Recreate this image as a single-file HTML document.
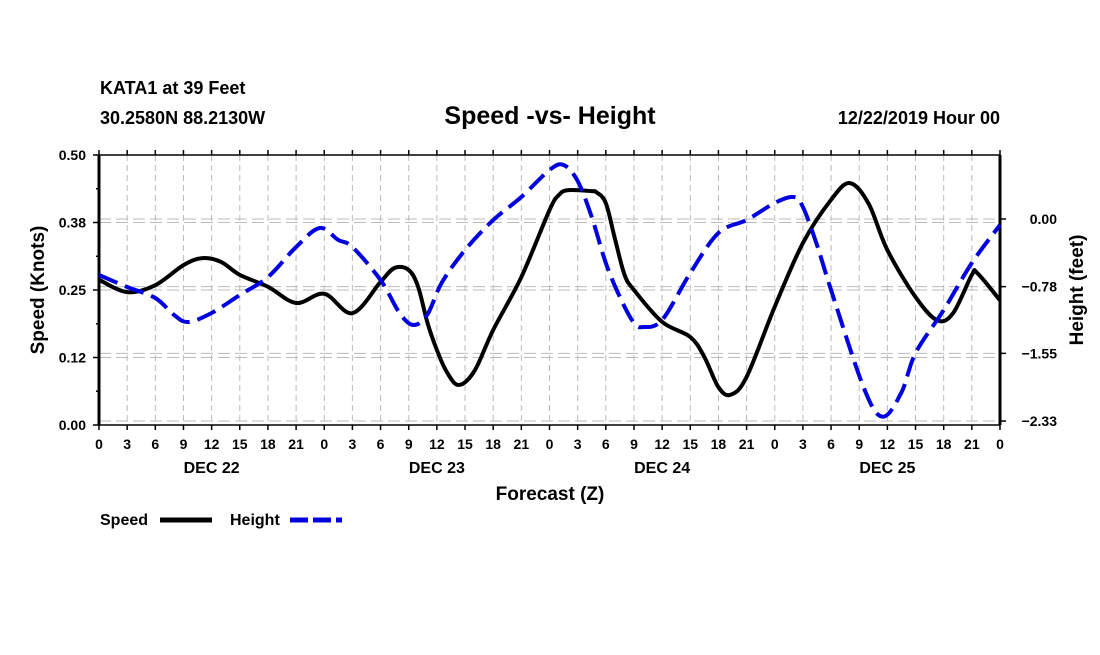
<!DOCTYPE html>
<html><head><meta charset="utf-8"><style>
body{margin:0;background:#fff;width:1100px;height:650px;overflow:hidden}
svg text{font-family:"Liberation Sans",sans-serif;font-weight:bold;fill:#000}
</style></head><body>
<svg id="c" width="1100" height="650">
<text x="100" y="94" font-size="18">KATA1 at 39 Feet</text>
<text x="100" y="124" font-size="18">30.2580N 88.2130W</text>
<text x="550" y="124" font-size="25" text-anchor="middle">Speed -vs- Height</text>
<text x="1000" y="124" font-size="18" text-anchor="end">12/22/2019 Hour 00</text>
<g id="grid"></g><g id="axes"></g><g id="series"></g>
<text x="550" y="500" font-size="19" text-anchor="middle">Forecast (Z)</text>
<text transform="translate(44,290) rotate(-90)" font-size="19" text-anchor="middle">Speed (Knots)</text>
<text transform="translate(1083,290) rotate(-90)" font-size="19" text-anchor="middle">Height (feet)</text>
<g>
<text x="100" y="525" font-size="16">Speed</text>
<line x1="160" y1="520" x2="212" y2="520" stroke="#000" stroke-width="5"/>
<text x="230" y="525" font-size="16">Height</text>
<line x1="290" y1="520" x2="342" y2="520" stroke="#0000e0" stroke-width="5" stroke-dasharray="18,5"/>
</g>
</svg>
<script>
const speedHours=[0,3,6,9,11,13,15,18,21,24,27,30,31.5,33,34,35,36,37,38.3,40,42,45,48,49,50,52.5,53,54,55,56,57,60,63,64.5,66,67.3,69,72,75,78,80,82,84,87,89.3,91,93,93.6,96];
const speedValues=[.269,.246,.259,.296,.309,.302,.278,.256,.226,.243,.207,.265,.291,.287,.256,.189,.139,.1,.074,.1,.176,.274,.398,.426,.435,.433,.431,.411,.343,.278,.25,.191,.163,.126,.07,.056,.089,.219,.337,.417,.448,.41,.324,.237,.194,.207,.278,.281,.231];
const heightHours=[0,3,6,8,9.5,12,15,18,21,23.5,25.5,27,30,32,33.5,35,36.5,39,42,45,48,49.5,51,52.5,54,55.5,57,58,60,63,66,69,72,74,75,76.5,78,81.5,83.5,85.5,87,90,93,96];
const heightValues=[-0.646,-0.784,-0.911,-1.107,-1.188,-1.084,-0.877,-0.669,-0.323,-0.104,-0.242,-0.323,-0.704,-1.08,-1.223,-1.1,-0.738,-0.358,-0.012,0.254,0.565,0.623,0.438,0.023,-0.507,-0.9,-1.2,-1.246,-1.165,-0.623,-0.161,-0.012,0.185,0.254,0.138,-0.3,-0.819,-1.95,-2.28,-2.0,-1.546,-1.05,-0.507,-0.069];
const xTickLabels=["0","3","6","9","12","15","18","21"];
const dayLabels=["DEC 22","DEC 23","DEC 24","DEC 25"];
const leftTicks=[0,0.125,0.25,0.375,0.5];
const leftTickLabels=["0.00","0.12","0.25","0.38","0.50"];
const rightTicks=[0,-0.78,-1.55,-2.33];
const rightTickLabels=["0.00","\u22120.78","\u22121.55","\u22122.33"];
const X0=99,X1=1000,Y0=425,Y1=155;
const xs=h=>X0+h*(X1-X0)/96;
const ys=v=>Y0-v*(Y0-Y1)/0.5;
const yh=v=>219-v*86.7;
const NS="http://www.w3.org/2000/svg";
function mk(p,t,a){const e=document.createElementNS(NS,t);for(const k in a)e.setAttribute(k,a[k]);p.appendChild(e);return e;}
const G=document.getElementById('grid'),A=document.getElementById('axes'),S=document.getElementById('series');
for(let h=3;h<96;h+=3){const l=mk(G,'line',{x1:xs(h),x2:xs(h),y1:Y1,y2:Y0,stroke:'#bbb','stroke-dasharray':'6,4'});

}
leftTicks.forEach(v=>{const l=mk(G,'line',{x1:X0,x2:X1,y1:ys(v),y2:ys(v),stroke:'#bbb','stroke-dasharray':'12,5'});

});
rightTicks.forEach(v=>{const l=mk(G,'line',{x1:X0,x2:X1,y1:yh(v),y2:yh(v),stroke:'#bbb','stroke-dasharray':'12,5'});

});
mk(A,'line',{x1:X0,x2:X1,y1:Y1,y2:Y1,stroke:'#000','stroke-width':1.5});
mk(A,'line',{x1:X0,x2:X1,y1:Y0,y2:Y0,stroke:'#000','stroke-width':1.5});
mk(A,'line',{x1:X0,x2:X0,y1:Y1,y2:Y0,stroke:'#000','stroke-width':3});
mk(A,'line',{x1:X1,x2:X1,y1:Y1,y2:Y0,stroke:'#000','stroke-width':3});
for(let i=0;i<=32;i++){const h=i*3,x=xs(h);
mk(A,'line',{x1:x,x2:x,y1:Y0,y2:Y0+5,stroke:'#000','stroke-width':1.5});
mk(A,'line',{x1:x,x2:x,y1:Y1,y2:Y1-5,stroke:'#000','stroke-width':1.5});
const t=mk(A,'text',{x:x,y:449,'font-size':14,'text-anchor':'middle'});t.textContent=i==32?'0':xTickLabels[i%8];

}
dayLabels.forEach((d,i)=>{const t=mk(A,'text',{x:xs(i*24+12),y:473,'font-size':16,'text-anchor':'middle'});t.textContent=d;

});
for(let v=0;v<=0.5001;v+=0.0625){mk(A,'line',{x1:X0-(Math.round(v/0.0625)%2?3:6),x2:X0,y1:ys(v),y2:ys(v),stroke:'#000','stroke-width':1.5});}
leftTicks.forEach((v,i)=>{const t=mk(A,'text',{x:86,y:ys(v)+5,'font-size':14,'text-anchor':'end'});t.textContent=leftTickLabels[i];

});
rightTicks.forEach((v,i)=>{mk(A,'line',{x1:X1,x2:X1+6,y1:yh(v),y2:yh(v),stroke:'#000','stroke-width':1.5});
const t=mk(A,'text',{x:1057,y:yh(v)+5,'font-size':14,'text-anchor':'end'});t.textContent=rightTickLabels[i];

});
function path(H,V,fy){const p=H.map((h,i)=>[xs(h),fy(V[i])]);let d='M'+p[0][0]+','+p[0][1];
for(let i=0;i<p.length-1;i++){const a=p[Math.max(i-1,0)],b=p[i],c=p[i+1],e=p[Math.min(i+2,p.length-1)];
d+=' C'+(b[0]+(c[0]-a[0])/6)+','+(b[1]+(c[1]-a[1])/6)+' '+(c[0]-(e[0]-b[0])/6)+','+(c[1]-(e[1]-b[1])/6)+' '+c[0]+','+c[1];}return d;}
const sp=mk(S,'path',{d:path(speedHours,speedValues,ys),fill:'none',stroke:'#000','stroke-width':4});


const hp=mk(S,'path',{d:path(heightHours,heightValues,yh),fill:'none',stroke:'#0000e0','stroke-width':4,'stroke-dasharray':'20,8'});


</script>
</body></html>
